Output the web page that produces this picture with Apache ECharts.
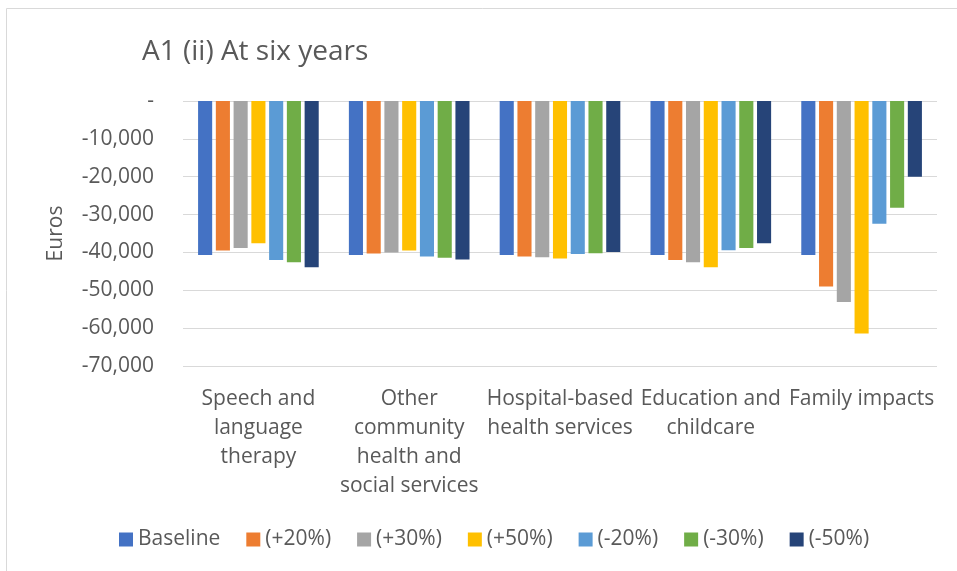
<!DOCTYPE html>
<html><head><meta charset="utf-8">
<script src="https://cdn.jsdelivr.net/npm/echarts@6/dist/echarts.min.js"></script>
<style>html,body{margin:0;padding:0;background:#fff}#c{width:957px;height:571px}</style>
</head><body><div id="c"></div>
<script>
const categories = ["Speech and\nlanguage\ntherapy", "Other\ncommunity\nhealth and\nsocial services", "Hospital-based\nhealth services", "Education and\nchildcare", "Family impacts"];
const seriesNames = ["Baseline", "(+20%)", "(+30%)", "(+50%)", "(-20%)", "(-30%)", "(-50%)"];
const baseline = [-40700, -40700, -40700, -40700, -40700];
const plus20 = [-39500, -40300, -41100, -42000, -49000];
const plus30 = [-38800, -40000, -41300, -42600, -53100];
const plus50 = [-37600, -39500, -41600, -43900, -61400];
const minus20 = [-42000, -41100, -40400, -39400, -32400];
const minus30 = [-42600, -41400, -40200, -38800, -28200];
const minus50 = [-43900, -41900, -39900, -37600, -20000];
const colors = ["#4472C4", "#ED7D31", "#A5A5A5", "#FFC000", "#5B9BD5", "#70AD47", "#264478"];
const values = [baseline, plus20, plus30, plus50, minus20, minus30, minus50];
const font = "Open Sans";
const chart = echarts.init(document.getElementById('c'));
chart.setOption({
  animation: false,
  color: colors,
  title: { text: "A1 (ii) At six years", left: 137, top: 33, textStyle: { fontFamily: font, fontSize: 28, fontWeight: 'normal', color: '#595959' } },
  graphic: [{ type: 'rect', shape: { x: 6.5, y: 8.5, width: 960, height: 600 }, style: { fill: 'none', stroke: '#d9d9d9', lineWidth: 1 }, silent: true }],
  legend: { top: 524, left: 114, itemWidth: 14, itemHeight: 14, itemGap: 26, icon: 'rect', textStyle: { fontFamily: font, fontSize: 21, color: '#595959', padding: [0, 0, 0, 0] }, data: seriesNames },
  grid: { left: 183, right: 20, top: 101, bottom: 205 },
  xAxis: { type: 'category', data: categories, position: 'bottom', axisLine: { show: false, onZero: false }, axisTick: { show: false },
    axisLabel: { fontFamily: font, fontSize: 21, color: '#595959', lineHeight: 29, margin: 19, interval: 0 } },
  yAxis: { type: 'value', min: -70000, max: 0, interval: 10000, name: 'Euros', nameLocation: 'middle', nameGap: 116,
    nameTextStyle: { fontFamily: font, fontSize: 21, color: '#595959' },
    axisLabel: { fontFamily: font, fontSize: 21, color: '#595959', margin: 29, formatter: v => v === 0 ? '-' : v.toLocaleString('en-US') },
    splitLine: { lineStyle: { color: '#d9d9d9', width: 1 } }, axisLine: { show: false }, axisTick: { show: false } },
  series: seriesNames.map((n, i) => ({ name: n, type: 'bar', data: values[i], barGap: '26%', barCategoryGap: '20%' }))
});
</script></body></html>
